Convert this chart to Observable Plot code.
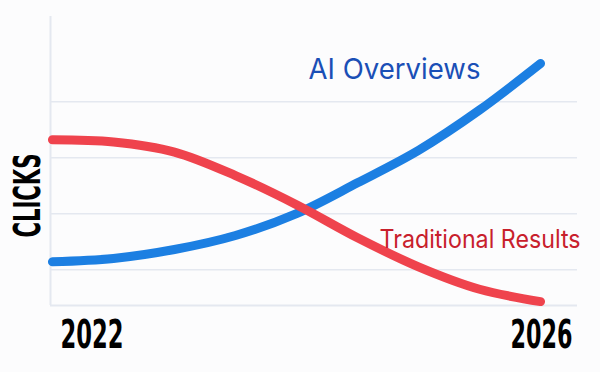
<!DOCTYPE html>
<html>
<head>
<meta charset="utf-8">
<script src="https://cdn.jsdelivr.net/npm/d3@7"></script>
<script src="https://cdn.jsdelivr.net/npm/@observablehq/plot@0.6"></script>
<style>
  html, body { margin: 0; padding: 0; background: #fcfcfd; }
  #chart { width: 600px; height: 372px; }
</style>
</head>
<body>
<div id="chart"></div>
<script>
// ---- data ----
const years = [2022, 2022.5, 2023, 2023.5, 2024, 2024.5, 2025, 2025.5, 2026];
const aiOverviews = [1.14, 1.20, 1.36, 1.61, 2.00, 2.55, 3.13, 3.85, 4.68];
const traditionalResults = [3.32, 3.28, 3.10, 2.68, 2.16, 1.57, 1.05, 0.65, 0.43];
const seriesNames = ["AI Overviews", "Traditional Results"];
const xTickLabels = [2022, 2026];
const gridValues = [1, 2, 3, 4];
const yTitle = "CLICKS";

const xDomain = [2021.984, 2026.303];
const yDomain = [0.36, 5.52];

const aiData = years.map((t, i) => ({year: t, value: aiOverviews[i]}));
const trData = years.map((t, i) => ({year: t, value: traditionalResults[i]}));

const condensed = "'Liberation Sans Narrow', 'DejaVu Sans Condensed', sans-serif";

const svg = Plot.plot({
  width: 600,
  height: 372,
  marginLeft: 50,
  marginRight: 23,
  marginTop: 16,
  marginBottom: 67,
  style: {background: "#fcfcfd", overflow: "visible"},
  x: {domain: xDomain, axis: null},
  y: {domain: yDomain, axis: null},
  marks: [
    Plot.ruleY(gridValues, {stroke: "#e4e8f0", strokeWidth: 1.5, strokeOpacity: 1}),
    Plot.ruleY([yDomain[0]], {stroke: "#e4e8f0", strokeWidth: 2, strokeOpacity: 1}),
    Plot.ruleX([xDomain[0]], {stroke: "#e4e8f0", strokeWidth: 2, strokeOpacity: 1}),
    Plot.line(aiData, {x: "year", y: "value", stroke: "#1c7fe2", strokeWidth: 9, curve: "catmull-rom", strokeLinecap: "round"}),
    Plot.line(trData, {x: "year", y: "value", stroke: "#ef434d", strokeWidth: 9, curve: "catmull-rom", strokeLinecap: "round"}),
    Plot.text([seriesNames[0]], {frameAnchor: "top-left", text: d => d, textAnchor: "start", lineAnchor: "bottom",
      dx: 258, dy: 62, fill: "#1a4fb6", fontSize: 28, fontFamily: "Inter, 'Noto Sans', sans-serif", fontWeight: 400}),
    Plot.text([seriesNames[1]], {frameAnchor: "top-left", text: d => d, textAnchor: "start", lineAnchor: "bottom",
      dx: 329, dy: 231, fill: "#c8202c", fontSize: 25, fontFamily: "Inter, 'Noto Sans', sans-serif", fontWeight: 400}),
    Plot.text(xTickLabels.filter(d => d === 2022), {x: d => d, y: () => yDomain[0], text: d => String(d), textAnchor: "start",
      lineAnchor: "bottom", dx: 8, dy: 42, fill: "#000", fontSize: 39, fontWeight: 700, fontFamily: condensed}),
    Plot.text(xTickLabels.filter(d => d === 2026), {x: d => d, y: () => yDomain[0], text: d => String(d), textAnchor: "end",
      lineAnchor: "bottom", dx: 32, dy: 42, fill: "#000", fontSize: 39, fontWeight: 700, fontFamily: condensed}),
    Plot.text([yTitle], {frameAnchor: "left", text: d => d, rotate: -90, textAnchor: "middle", lineAnchor: "middle",
      dx: -22, dy: 34.5, fill: "#000", fontSize: 37, fontWeight: 700, fontFamily: condensed})
  ]
});

document.getElementById("chart").appendChild(svg);

const lengths = {"AI Overviews": 172, "Traditional Results": 201, "CLICKS": 84};
const scaledWidths = {"2022": 63, "2026": 62};
d3.select(svg).selectAll("text").each(function() {
  const t = this.textContent;
  if (lengths[t] != null) {
    this.setAttribute("textLength", lengths[t]);
    this.setAttribute("lengthAdjust", "spacingAndGlyphs");
  } else if (scaledWidths[t] != null) {
    const w = this.getComputedTextLength();
    const k = w > 0 ? scaledWidths[t] / w : 1;
    const tr = this.getAttribute("transform") || "";
    this.setAttribute("transform", tr + ` scale(${k},1)`);
  }
});
</script>
</body>
</html>
